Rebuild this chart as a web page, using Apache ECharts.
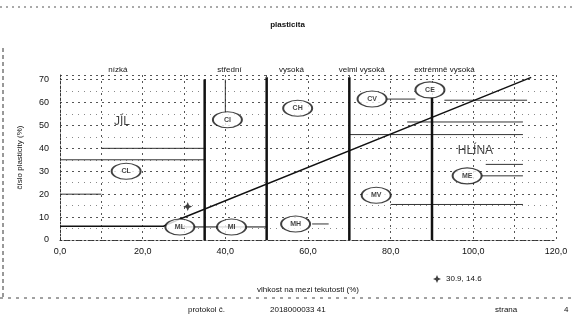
<!DOCTYPE html>
<html>
<head>
<meta charset="utf-8">
<script src="https://cdn.jsdelivr.net/npm/echarts@6/dist/echarts.min.js"></script>
<style>
  html, body { margin: 0; padding: 0; background: #fff; }
  #chart { width: 575px; height: 325px; }
</style>
</head>
<body>
<div id="chart"></div>
<script>
// plasticity chart data
const xTicks = [0, 20, 40, 60, 80, 100, 120];
const yTicks = [0, 10, 20, 30, 40, 50, 60, 70];
const zoneNames = ['nízká', 'střední', 'vysoká', 'velmi vysoká', 'extrémně vysoká'];
const zoneCenters = [14, 41, 56, 73, 93];
const zoneBounds = [35, 50, 70, 90];
const zoneBoundTops = [70, 71, 71, 62];
const aLine = [[0, 6], [25, 6], [29.5, 9.5], [114, 71]];
const lowLine = [[29, 5.7], [50, 5.7]];
const leaders = [
  [[40, 56], [40, 70]],
  [[79, 61.5], [86, 61.5]],
  [[93, 61], [113, 61]],
  [[61, 7], [65, 7]],
  [[102, 28], [112, 28]],
  [[103, 33], [112, 33]],
  [[80, 15.5], [112, 15.5]],
  [[10, 40], [35, 40]],
  [[70, 46], [112, 46]],
  [[84, 51.5], [112, 51.5]],
  [[0, 20], [10, 20]],
  [[0, 35], [35, 35]]
];
const soilNames = ['CL', 'CI', 'CH', 'CV', 'CE', 'ML', 'MI', 'MH', 'MV', 'ME'];
const soilX = [16, 40.5, 57.5, 75.5, 89.5, 29, 41.5, 57, 76.5, 98.5];
const soilY = [30, 52.5, 57.5, 61.5, 65.5, 5.7, 5.7, 7, 19.5, 28];
const groupNames = ['JÍL', 'HLÍNA'];
const groupX = [15, 100.5];
const groupY = [51.5, 39];
const sampleName = '30.9, 14.6';
const sample = [[30.9, 14.6]];

const chart = echarts.init(document.getElementById('chart'));
const font = 'Liberation Sans, Arial, sans-serif';
const ink = '#111';

const series = [];
zoneBounds.forEach((x, i) => {
  series.push({
    type: 'line', data: [[x, 0], [x, zoneBoundTops[i]]], symbol: 'none',
    lineStyle: { color: ink, width: 2.5 }, z: 3, silent: true
  });
});
series.push({
  type: 'line', data: aLine, symbol: 'none',
  lineStyle: { color: ink, width: 1.4 }, z: 4, silent: true
});
series.push({
  type: 'line', data: lowLine, symbol: 'none',
  lineStyle: { color: ink, width: 1 }, z: 3, silent: true
});
leaders.forEach(seg => {
  series.push({
    type: 'line', data: seg, symbol: 'none',
    lineStyle: { color: '#333', width: 1 }, z: 2, silent: true
  });
});
series.push({
  type: 'scatter',
  data: soilNames.map((n, i) => ({ name: n, value: [soilX[i], soilY[i]] })),
  symbol: 'circle', symbolSize: [29, 16],
  itemStyle: { color: '#fff', borderColor: ink, borderWidth: 1.5 },
  label: { show: true, position: 'inside', formatter: '{b}', color: ink, fontSize: 7, fontWeight: 'bold', fontFamily: font },
  z: 6, silent: true
});
series.push({
  type: 'scatter',
  data: groupNames.map((n, i) => ({ name: n, value: [groupX[i], groupY[i]] })),
  symbolSize: 0,
  label: { show: true, position: 'inside', formatter: '{b}', color: ink, fontSize: 12, fontFamily: font },
  z: 6, silent: true
});
series.push({
  name: sampleName, type: 'scatter', data: sample,
  symbol: 'path://M0,-10 L3,-3 L10,0 L3,3 L0,10 L-3,3 L-10,0 L-3,-3 Z',
  symbolSize: 9, itemStyle: { color: ink }, z: 7
});

chart.setOption({
  animation: false,
  backgroundColor: '#fff',
  textStyle: { fontFamily: font },
  grid: { left: 60, right: 19, top: 75, bottom: 85 },
  legend: {
    data: [sampleName], left: 428, top: 270, itemWidth: 8, itemHeight: 8, itemGap: 6,
    textStyle: { fontSize: 8, color: ink, fontFamily: font }
  },
  xAxis: {
    type: 'value', min: 0, max: 120, interval: 10,
    name: 'vlhkost na mezi tekutosti (%)', nameLocation: 'middle', nameGap: 46,
    nameTextStyle: { fontSize: 8, color: ink, fontFamily: font },
    axisLine: { show: true, lineStyle: { color: '#333', type: [2, 2], width: 1 } },
    axisTick: { show: false },
    axisLabel: {
      fontSize: 9, color: ink, margin: 7, fontFamily: font,
      formatter: v => xTicks.includes(v) ? v.toFixed(1).replace('.', ',') : ''
    },
    splitLine: { show: true, lineStyle: { color: '#555', type: [2, 4], width: 1 } }
  },
  yAxis: {
    type: 'value', min: 0, max: 72, interval: 10,
    name: 'číslo plasticity (%)', nameLocation: 'middle', nameGap: 36,
    nameTextStyle: { fontSize: 8, color: ink, fontFamily: font },
    axisLine: { show: true, lineStyle: { color: '#333', type: [2, 2], width: 1 } },
    axisTick: { show: false },
    axisLabel: {
      fontSize: 9, color: ink, margin: 11, fontFamily: font,
      formatter: v => yTicks.includes(v) ? String(v) : ''
    },
    splitLine: { show: true, lineStyle: { color: '#555', type: [2, 4], width: 1 } },
    minorTick: { show: false, splitNumber: 2 },
    minorSplitLine: { show: true, lineStyle: { color: '#888', type: [1, 5], width: 1 } }
  },
  series: series
});

// page texts and zone headings placed over the x scale
const graphics = [
  { type: 'text', left: 'center', top: 21, style: { text: 'plasticita', font: 'bold 8px ' + font, fill: ink } },
  { type: 'line', shape: { x1: 0, y1: 7, x2: 575, y2: 7 }, style: { stroke: '#555', lineDash: [2, 4], lineWidth: 1 } },
  { type: 'line', shape: { x1: 3, y1: 48, x2: 3, y2: 298 }, style: { stroke: '#333', lineDash: [4, 3], lineWidth: 1 } },
  { type: 'line', shape: { x1: 0, y1: 298, x2: 575, y2: 298 }, style: { stroke: '#444', lineDash: [3, 5], lineWidth: 1 } },
  { type: 'text', left: 188, top: 306, style: { text: 'protokol č.', font: '8px ' + font, fill: ink } },
  { type: 'text', left: 270, top: 306, style: { text: '2018000033 41', font: '8px ' + font, fill: ink } },
  { type: 'text', left: 495, top: 306, style: { text: 'strana', font: '8px ' + font, fill: ink } },
  { type: 'text', left: 564, top: 306, style: { text: '4', font: '8px ' + font, fill: ink } }
];
zoneNames.forEach((t, i) => {
  graphics.push({
    type: 'text',
    x: chart.convertToPixel({ xAxisIndex: 0 }, zoneCenters[i]),
    y: 66,
    style: { text: t, font: '8px ' + font, fill: ink, textAlign: 'center' }
  });
});
chart.setOption({ graphic: graphics });
</script>
</body>
</html>
